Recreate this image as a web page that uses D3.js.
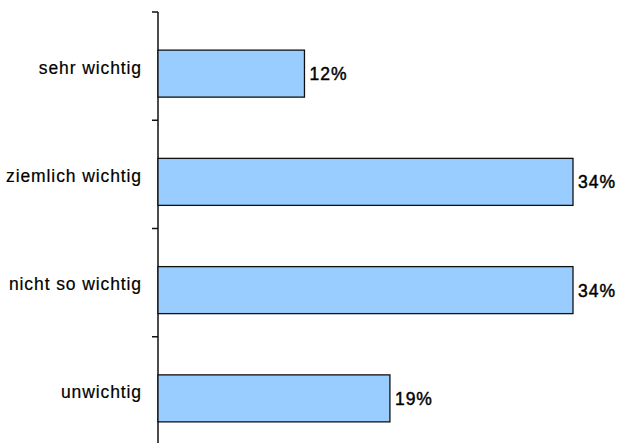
<!DOCTYPE html>
<html>
<head>
<meta charset="utf-8">
<script src="https://cdn.jsdelivr.net/npm/d3@7"></script>
<style>
  body { margin: 0; background: #fff; }
  text { font-family: "Liberation Sans", Arial, sans-serif; fill: #000; }
</style>
</head>
<body>
<svg id="chart" width="618" height="443"></svg>
<script>
// data
var categories = ["sehr wichtig", "ziemlich wichtig", "nicht so wichtig", "unwichtig"];
var values = [12, 34, 34, 19];
var valueLabels = ["12%", "34%", "34%", "19%"];

var width = 618, height = 443;
var svg = d3.select("#chart");

// x: percent -> pixels
var x = d3.scaleLinear().domain([0, 34]).range([158, 573]);

// category bands (tick marks sit on the band edges)
var y = d3.scaleBand().domain(categories).range([12, 445]).paddingInner(0).paddingOuter(0);
var barH = 47;
var barShift = 7.5; // bars sit a bit below the band centre in the original

var rows = categories.map(function(c, i) {
  return { cat: c, value: values[i], label: valueLabels[i] };
});

// axis line + ticks
svg.append("line")
    .attr("x1", x(0)).attr("x2", x(0))
    .attr("y1", y.range()[0]).attr("y2", height + 2)
    .attr("stroke", "#111").attr("stroke-width", 1.5);

var tickYs = categories.map(function(c) { return y(c); }).concat([y.range()[1]]);
svg.selectAll(".tick")
    .data(tickYs)
  .enter().append("line")
    .attr("class", "tick")
    .attr("x1", x(0) - 6).attr("x2", x(0))
    .attr("y1", function(d) { return d; })
    .attr("y2", function(d) { return d; })
    .attr("stroke", "#111").attr("stroke-width", 1.5);

// bars
svg.selectAll(".bar")
    .data(rows)
  .enter().append("rect")
    .attr("class", "bar")
    .attr("x", x(0))
    .attr("y", function(d) { return y(d.cat) + y.bandwidth() / 2 + barShift - barH / 2; })
    .attr("width", function(d) { return x(d.value) - x(0); })
    .attr("height", barH)
    .attr("fill", "#99ccff")
    .attr("stroke", "#111")
    .attr("stroke-width", 1.3);

// category labels
svg.selectAll(".cat")
    .data(rows)
  .enter().append("text")
    .attr("class", "cat")
    .attr("x", 142)
    .attr("y", function(d) { return y(d.cat) + y.bandwidth() / 2 + barShift; })
    .attr("text-anchor", "end")
    .style("font-size", "17.5px")
    .style("letter-spacing", "0.9px")
    .style("stroke", "#000").style("stroke-width", "0.2px")
    .text(function(d) { return d.cat; });

// value labels
svg.selectAll(".val")
    .data(rows)
  .enter().append("text")
    .attr("class", "val")
    .attr("x", function(d) { return x(d.value) + 5; })
    .attr("y", function(d) { return y(d.cat) + y.bandwidth() / 2 + barShift + 6.5; })
    .style("font-size", "17.5px")
    .style("letter-spacing", "1px")
    .style("stroke", "#000").style("stroke-width", "0.45px")
    .text(function(d) { return d.label; });
</script>
</body>
</html>
